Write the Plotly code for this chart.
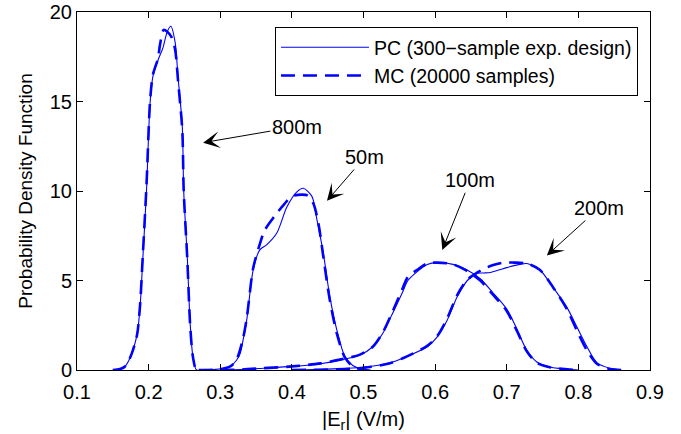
import plotly.graph_objects as go

# ---------------- data ----------------
x_800_pc = [0.150, 0.160, 0.167, 0.172, 0.178, 0.184, 0.188, 0.192, 0.197, 0.202, 0.206, 0.213, 0.220, 0.226, 0.231, 0.237, 0.241, 0.247, 0.249, 0.254, 0.258, 0.262, 0.267, 0.280]
y_800_pc = [0.0, 0.05, 0.2, 0.5, 1.1, 2.0, 3.5, 6.3, 10.0, 14.9, 16.4, 17.3, 18.0, 18.9, 19.2, 18.3, 16.4, 13.6, 10.0, 6.3, 2.6, 0.7, 0.0, 0.0]
x_800_mc = [0.150, 0.160, 0.167, 0.172, 0.178, 0.184, 0.188, 0.192, 0.197, 0.202, 0.206, 0.213, 0.216, 0.221, 0.226, 0.232, 0.237, 0.241, 0.247, 0.249, 0.254, 0.258, 0.262, 0.267, 0.280]
y_800_mc = [0.0, 0.05, 0.2, 0.5, 1.1, 2.0, 3.6, 6.5, 10.3, 15.0, 16.5, 17.4, 18.2, 19.0, 18.9, 18.6, 17.9, 16.2, 13.4, 10.0, 6.2, 2.5, 0.7, 0.0, 0.0]

x_50_pc = [0.270, 0.290, 0.305, 0.314, 0.323, 0.328, 0.332, 0.337, 0.346, 0.355, 0.365, 0.379, 0.393, 0.407, 0.416, 0.428, 0.435, 0.444, 0.453, 0.463, 0.474, 0.485, 0.495, 0.510]
y_50_pc = [0.0, 0.02, 0.1, 0.2, 0.56, 0.95, 1.7, 2.8, 5.6, 6.7, 7.0, 7.65, 9.1, 9.95, 10.15, 9.7, 8.4, 6.5, 4.1, 2.2, 0.75, 0.25, 0.08, 0.0]
x_50_mc = [0.270, 0.300, 0.314, 0.323, 0.332, 0.337, 0.346, 0.355, 0.362, 0.376, 0.390, 0.400, 0.414, 0.422, 0.430, 0.437, 0.444, 0.453, 0.463, 0.474, 0.485, 0.500]
y_50_mc = [0.0, 0.05, 0.2, 0.6, 1.8, 2.9, 5.7, 7.0, 7.8, 8.6, 9.3, 9.7, 9.8, 9.75, 9.3, 8.2, 6.3, 3.9, 2.0, 0.7, 0.2, 0.0]

x_100_pc = [0.300, 0.330, 0.360, 0.400, 0.440, 0.467, 0.495, 0.513, 0.527, 0.541, 0.554, 0.562, 0.575, 0.589, 0.603, 0.625, 0.644, 0.663, 0.681, 0.700, 0.714, 0.728, 0.742, 0.760, 0.784, 0.800]
y_100_pc = [0.0, 0.03, 0.1, 0.2, 0.35, 0.55, 0.84, 1.3, 2.05, 3.2, 4.3, 5.0, 5.5, 5.9, 6.0, 5.9, 5.6, 5.1, 4.3, 3.4, 2.3, 1.1, 0.45, 0.17, 0.05, 0.0]
x_100_mc = [0.300, 0.330, 0.360, 0.400, 0.440, 0.467, 0.495, 0.513, 0.527, 0.541, 0.554, 0.562, 0.575, 0.589, 0.603, 0.625, 0.644, 0.663, 0.681, 0.700, 0.714, 0.728, 0.742, 0.760, 0.784, 0.800]
y_100_mc = [0.0, 0.03, 0.1, 0.2, 0.37, 0.58, 0.86, 1.3, 2.1, 3.3, 4.5, 5.2, 5.6, 5.95, 6.0, 5.9, 5.55, 5.0, 4.2, 3.3, 2.2, 1.05, 0.4, 0.15, 0.04, 0.0]

x_200_pc = [0.400, 0.450, 0.500, 0.537, 0.560, 0.589, 0.603, 0.617, 0.631, 0.645, 0.659, 0.668, 0.677, 0.690, 0.700, 0.718, 0.728, 0.746, 0.765, 0.784, 0.798, 0.812, 0.826, 0.844, 0.860]
y_200_pc = [0.0, 0.05, 0.15, 0.4, 0.75, 1.3, 1.85, 2.8, 4.1, 5.0, 5.4, 5.42, 5.45, 5.6, 5.72, 5.9, 5.95, 5.6, 4.6, 3.5, 2.4, 1.3, 0.4, 0.1, 0.0]
x_200_mc = [0.400, 0.450, 0.500, 0.537, 0.560, 0.589, 0.603, 0.617, 0.631, 0.645, 0.659, 0.668, 0.680, 0.695, 0.710, 0.728, 0.746, 0.765, 0.784, 0.798, 0.812, 0.826, 0.844, 0.860]
y_200_mc = [0.0, 0.03, 0.12, 0.38, 0.75, 1.35, 1.9, 2.9, 4.2, 5.05, 5.45, 5.65, 5.85, 6.0, 6.0, 5.95, 5.6, 4.6, 3.4, 2.2, 1.1, 0.35, 0.05, 0.0]

pc_series = [(x_800_pc, y_800_pc), (x_50_pc, y_50_pc), (x_100_pc, y_100_pc), (x_200_pc, y_200_pc)]
mc_series = [(x_800_mc, y_800_mc), (x_50_mc, y_50_mc), (x_100_mc, y_100_mc), (x_200_mc, y_200_mc)]

pc_name = "PC (300\u2212sample exp. design)"
mc_name = "MC (20000 samples)"

# labels: (text, head x, head y, text x, text y)
labels = ["800m", "50m", "100m", "200m"]
head_x = [0.276, 0.449, 0.610, 0.756]
head_y = [12.7, 9.45, 6.7, 6.4]
text_x = [0.407, 0.502, 0.649, 0.829]
text_y = [13.6, 11.9, 10.6, 9.05]

x_ticks = [0.1, 0.2, 0.3, 0.4, 0.5, 0.6, 0.7, 0.8, 0.9]
y_ticks = [0, 5, 10, 15, 20]

BLUE = "#0000ff"
FONT = "Liberation Sans, Arial, Helvetica, sans-serif"

fig = go.Figure()
for i, (xs, ys) in enumerate(pc_series):
    fig.add_trace(go.Scatter(x=xs, y=ys, mode="lines", name=pc_name, legendgroup="pc",
                             showlegend=(i == 0), line=dict(color=BLUE, width=1.1, shape="spline", smoothing=0.8)))
for i, (xs, ys) in enumerate(mc_series):
    fig.add_trace(go.Scatter(x=xs, y=ys, mode="lines", name=mc_name, legendgroup="mc",
                             showlegend=(i == 0), line=dict(color=BLUE, width=2.6, dash="14px,8px", shape="spline", smoothing=0.8)))

for t, hx, hy, tx, ty in zip(labels, head_x, head_y, text_x, text_y):
    fig.add_annotation(x=hx, y=hy, ax=tx, ay=ty, xref="x", yref="y", axref="x", ayref="y",
                       text=t, showarrow=True, arrowhead=3, arrowsize=2.8, arrowwidth=1,
                       arrowcolor="black", font=dict(size=20, color="black", family=FONT))

fig.update_layout(
    width=681, height=434,
    margin=dict(l=77, r=31, t=12, b=64, autoexpand=False),
    paper_bgcolor="white", plot_bgcolor="white",
    font=dict(family=FONT, size=20, color="black"),
    showlegend=True,
    legend=dict(x=0.979, y=0.958, xanchor="right", yanchor="top",
                bgcolor="white", bordercolor="black", borderwidth=1,
                font=dict(size=19.5, family=FONT), tracegroupgap=0, itemwidth=88),
    xaxis=dict(range=[0.1, 0.9], tickvals=x_ticks, ticktext=[f"{v:g}" for v in x_ticks],
               automargin=False, ticklabeloverflow="allow", ticklabelstandoff=4,
               showline=True, mirror="ticks", linecolor="black", linewidth=1,
               ticks="inside", ticklen=6, tickcolor="black", showgrid=False, zeroline=False,
               tickfont=dict(size=20),
               title=dict(text="|E<sub>r</sub>| (V/m)", standoff=9, font=dict(size=20))),
    yaxis=dict(range=[0, 20], tickvals=y_ticks, automargin=False, ticklabeloverflow="allow",
               showline=True, mirror="ticks", linecolor="black", linewidth=1,
               ticks="inside", ticklen=6, tickcolor="black", showgrid=False, zeroline=False,
               tickfont=dict(size=20),
               title=dict(text="Probability Density Function", standoff=12, font=dict(size=19))),
)

# remove the browser's default 8px body margin so the figure fills the window exactly
fig.write_html("out.html", config={"displayModeBar": False},
               post_script="document.body.style.margin='0';document.body.style.overflow='hidden';")
